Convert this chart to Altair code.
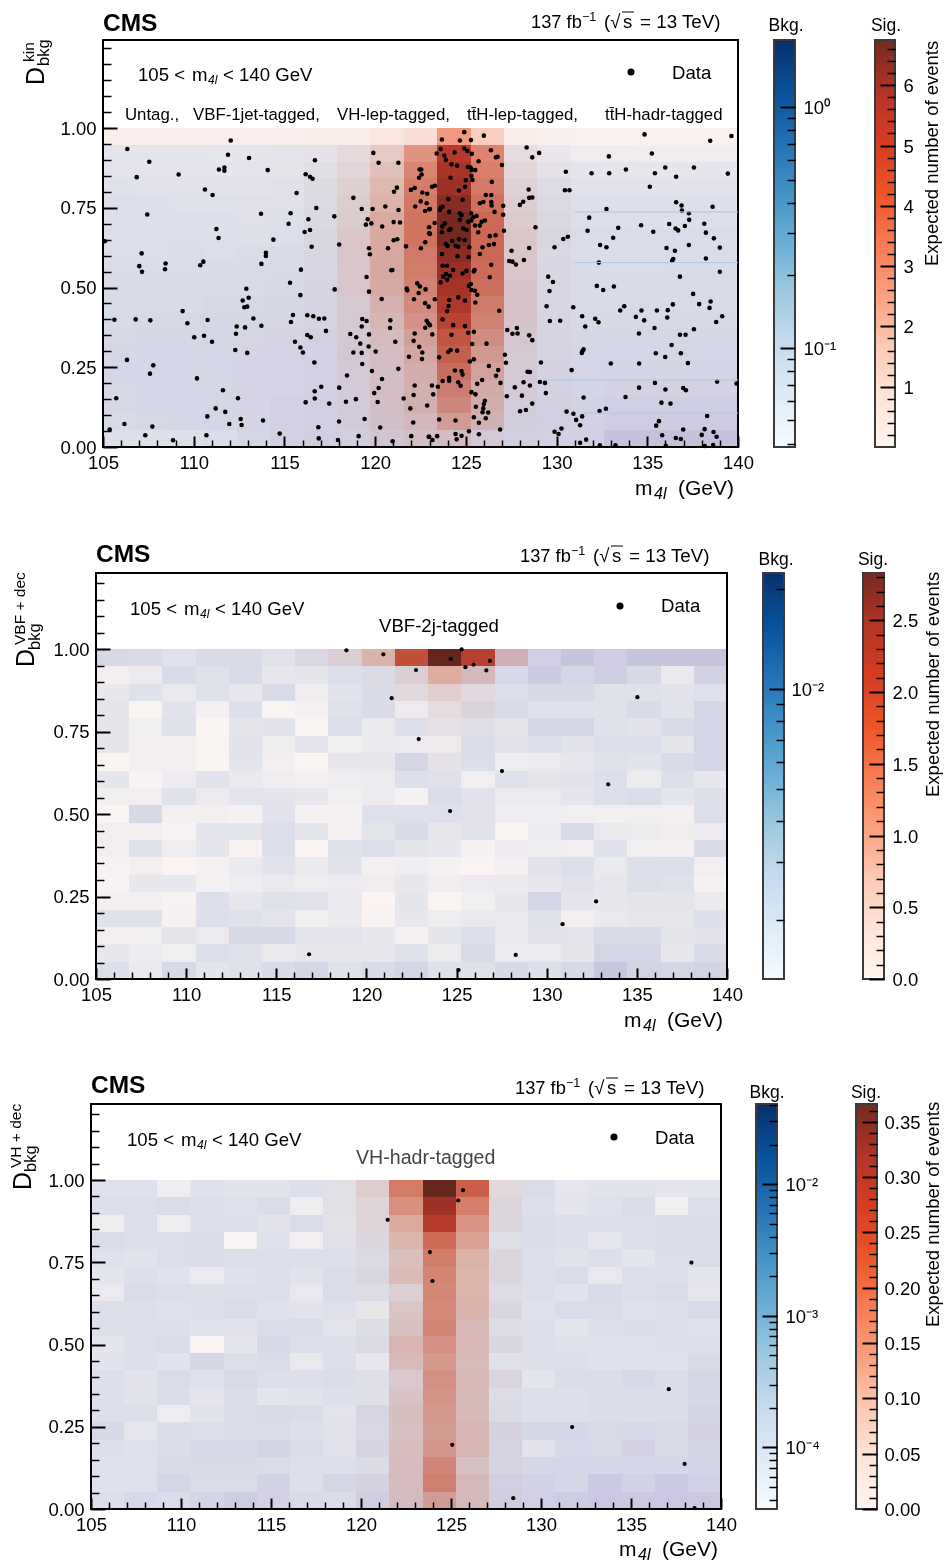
import numpy as np
import pandas as pd
import altair as alt

FONT = "Liberation Sans"
W, H = 935, 1556
N = 19
EDGES = [105 + 35 * i / N for i in range(N + 1)]
REDGES = [i / N for i in range(N + 1)]

BLUES = ["#f7fbff", "#deebf7", "#c6dbef", "#9ecae1", "#6baed6", "#4292c6", "#2171b5", "#08519c", "#08306b"]
CELL_BLUES = ["#fbfbff", "#dee7f7", "#cdd0ec", "#b3b3dc", "#6baed6", "#4292c6", "#2171b5", "#08519c", "#08306b"]
REDS = ["#fff5f0", "#fee4d8", "#fdc9b2", "#fb9f7e", "#f87b52", "#ec5428", "#d63c22", "#b33425", "#762a20"]
CELL_REDS = ["#fdf8f4", "#fee4d8", "#fdc9b2", "#f89c80", "#f07a5c", "#e45a3c", "#d03e2c", "#b03426", "#762a20"]

# background per cell, rows from y=1 downward, units 1e-3
bkg1 = [
 [39]*19,
 [54,54,54,53,53,54,54,54,54,54,54,54,54,50,46,46,45,45,45],
 [56,55,55,54,54,55,58,58,58,58,58,58,58,54,54,53,53,53,54],
 [60,58,58,57,56,58,62,62,62,62,62,62,62,62,58,57,57,57,58],
 [62,62,60,60,60,60,64,65,64,64,64,64,64,65,62,62,62,62,62],
 [62,62,62,62,60,62,66,66,66,66,66,66,66,67,64,64,64,64,64],
 [64,62,64,62,62,64,68,68,68,68,68,68,68,70,66,66,66,66,66],
 [64,64,66,64,66,68,70,70,70,70,70,70,70,68,66,66,66,66,67],
 [66,66,66,68,68,70,72,72,72,72,72,72,72,70,68,67,67,68,68],
 [68,68,68,70,70,72,74,74,74,74,74,74,74,72,70,70,70,70,70],
 [70,70,70,73,73,75,76,76,76,76,76,76,76,73,72,72,72,72,72],
 [72,73,74,76,76,78,78,78,78,78,78,78,78,74,73,73,73,74,74],
 [75,76,76,78,78,80,82,82,80,80,80,80,80,76,76,76,76,76,76],
 [76,78,78,80,80,82,84,84,82,82,82,82,82,78,78,79,79,79,79],
 [76,78,78,80,80,82,84,84,84,84,84,84,84,80,80,82,82,82,82],
 [74,76,78,80,80,82,84,84,84,84,84,84,84,82,82,85,85,85,85],
 [74,76,76,78,80,84,86,86,86,86,86,86,86,84,84,90,90,92,92],
 [72,74,76,78,80,84,86,86,86,86,86,86,86,86,86,96,96,98,98],
 [62,62,62,66,74,84,90,84,84,84,84,84,84,84,88,115,115,118,118],
]
sig1 = [
 [.25,.25,.25,.25,.25,.25,.3,.35,.6,.9,2.6,1.4,.3,.2,.15,.15,.15,.15,.15],
 [.05,.05,.05,.05,.08,.1,.15,.6,1.2,2.5,5.2,2.9,.5,.15,.05,.05,.05,.05,.05],
 [.05,.05,.05,.05,.08,.1,.25,.7,1.4,2.8,5.6,3.0,.6,.2,.05,.05,.05,.05,.05],
 [.05,.05,.05,.05,.08,.1,.3,.85,1.6,3.0,5.8,3.1,.7,.25,.05,.05,.05,.05,.05],
 [.05,.05,.05,.05,.08,.1,.3,.9,1.7,3.1,6.2,3.3,.85,.3,.05,.05,.05,.05,.05],
 [.05,.05,.05,.05,.08,.1,.3,.9,1.9,3.2,6.5,3.5,.95,.3,.05,.05,.05,.05,.05],
 [.05,.05,.05,.05,.08,.1,.3,1.0,1.9,3.2,6.5,3.5,1.0,.3,.05,.05,.05,.05,.05],
 [.05,.05,.05,.05,.08,.1,.25,1.0,1.9,3.0,6.1,3.5,.95,.25,.05,.05,.05,.05,.05],
 [.05,.05,.05,.05,.08,.1,.2,.95,1.9,2.9,5.8,3.4,.95,.25,.05,.05,.05,.05,.05],
 [.05,.05,.05,.05,.08,.1,.2,.9,1.8,2.7,5.4,3.2,.95,.2,.05,.05,.05,.05,.05],
 [.05,.05,.05,.05,.08,.1,.2,.75,1.6,2.5,5.0,2.9,.95,.2,.05,.05,.05,.05,.05],
 [.05,.05,.05,.05,.08,.1,.15,.7,1.4,2.3,4.6,2.7,.9,.2,.05,.05,.05,.05,.05],
 [.05,.05,.05,.05,.08,.1,.15,.65,1.2,2.0,4.0,2.4,.8,.15,.05,.05,.05,.05,.05],
 [.05,.05,.05,.05,.08,.1,.12,.6,1.05,1.8,3.7,2.1,.65,.15,.05,.05,.05,.05,.05],
 [.05,.05,.05,.05,.08,.1,.12,.5,1.0,1.6,3.2,1.9,.5,.15,.05,.05,.05,.05,.05],
 [.05,.05,.05,.05,.08,.1,.12,.45,1.0,1.5,2.8,1.7,.45,.15,.05,.05,.05,.05,.05],
 [.05,.05,.05,.05,.08,.1,.12,.4,.9,1.5,2.5,1.6,.35,.15,.05,.05,.05,.05,.05],
 [.05,.05,.05,.05,.08,.1,.12,.4,.9,1.2,2.0,1.4,.3,.15,.05,.05,.05,.05,.05],
 [.05,.05,.05,.05,.08,.1,.12,.25,.7,1.0,1.1,.5,.2,.1,.05,.05,.05,.05,.05],
]
# units 1e-4
bkg2 = [
 [21,20,17.6,20,20,17.6,20,20,20,20,20,20,26,24.5,29,25,29,29,29],
 [14.3,15.5,20,18,20,16.5,17,19,19,20,18,22,21,27,22,25,21,16,23.5],
 [16.5,18.2,16,18,16.5,20,15,17.6,20,18,18,18,19,21,21,18,18,17.6,18.5],
 [17,13.3,17.6,14.3,18.6,13.3,14,18,20,15,17,20,20,18.2,18.2,18.2,20,17.6,22],
 [17,14.6,18.2,13.3,17,17.6,13.3,19,16,19,17,18,17,22,22,18.2,17.6,20,22],
 [17,14.3,14.3,13.3,17.6,15,17.4,14.6,16,15.5,14.8,19.5,17.6,18.6,17.6,19,19,17,22],
 [13.3,14.5,14.3,13.3,17.4,14.5,13.3,16.4,16.4,22,17,19,15,15.5,16.5,18,17.6,20,22],
 [17,13.5,15.3,17.8,15.8,15,14.3,15,15.2,18.6,18,14.5,18,17,17.6,18.6,15.2,18.6,16.5],
 [14.6,14.5,18.2,15.5,17.4,17.4,16.4,14.6,15.5,14,19.5,17.8,15.5,15.5,17,18.6,19.2,17,18.6],
 [13.3,21,14.3,14.3,14,17.6,14.2,14.2,18.4,18.4,18.4,17.8,15,14.8,14.6,14.3,14.6,14.3,19],
 [14.5,14.5,13.4,17.4,17,19,17,14.1,17,20,16.5,17.6,13.3,15.5,20,16,15.5,15,15.5],
 [14.4,18,15,17,13.6,18.6,13.3,18.2,19,17,16.5,14,15.5,15,14.6,18.2,14.6,14.3,20],
 [13.6,14.5,13.2,14.2,16,17.6,16,17.6,14.3,14.8,14,13.2,14.3,17.6,18.6,16,18.6,18.6,14.4],
 [13.4,16.5,16.5,14.2,15,15.8,14.8,15.5,15,16.4,14.8,15.5,16,16.5,17.8,16.4,18.6,18.2,14],
 [14.3,14.5,13.7,18.6,16.5,18,17.8,16,13.2,17,13.3,14.6,16.4,22,17.4,16.4,17,17,16],
 [18,18.2,13.8,18.6,18,17.2,14.6,16,13.4,16.5,15,16,16.2,18.2,14.4,16,16.5,16.5,18.6],
 [14.5,14.6,17,15.5,21,21,17.4,17.4,16.4,14.2,17,18.6,16,17.6,17.4,20,20,17,17.6],
 [16.4,15.3,14.6,18.6,18,16,16.8,16.8,16.4,18.2,15.2,20,15.5,15.5,17,22,22,16.4,20],
 [18.6,16,21,17,18,20,22,18.2,20,22,18.2,18,21,18.6,21,28,23,22,23],
]
sig2 = [
 [.03,.03,.03,.03,.03,.03,.1,.3,.7,1.8,2.83,2.0,.55,.03,.03,.03,.03,.03,.03],
 [.02,.02,.02,.02,.02,.02,.02,.02,.1,.3,.8,.55,.03,.02,.02,.02,.02,.02,.02],
 [.02,.02,.02,.02,.02,.02,.02,.02,.03,.2,.4,.2,.02,.02,.02,.02,.02,.02,.02],
 [.02,.02,.02,.02,.02,.02,.02,.02,.02,.05,.2,.2,.02,.02,.02,.02,.02,.02,.02],
 [.02,.02,.02,.02,.02,.02,.02,.02,.02,.03,.1,.08,.02,.02,.02,.02,.02,.02,.02],
 [.02,.02,.02,.02,.02,.02,.02,.02,.02,.02,.08,.03,.02,.02,.02,.02,.02,.02,.02],
 [.02,.02,.02,.02,.02,.02,.02,.02,.02,.02,.06,.03,.02,.02,.02,.02,.02,.02,.02],
 [.02,.02,.02,.02,.02,.02,.02,.02,.02,.02,.04,.02,.02,.02,.02,.02,.02,.02,.02],
] + [[.02] * 19 for _ in range(11)]
# units 1e-5
bkg3 = [
 [7.5,7.5,4.5,7.5,6.9,6.9,8,7,8,8,8,8,7,9,6,6.9,6.9,6.4,6.4],
 [8,8,9.2,8,7.5,8.8,4.5,7,8,8,8,8,8.5,8,6.4,7.5,8.8,4.3,8],
 [4.5,8,4.6,8,8,6.9,9.2,6.4,8,8,8,8,8.5,9,8,8,8,8.8,8.8],
 [9.2,8.4,8.4,8.8,3.4,7.5,4.4,6.9,8.5,8.5,8.5,8.5,8,8.8,8,6,8,9,9],
 [7.5,6.8,8.4,9.2,8,8,8,8,8.5,9,9,9,9,8,6.9,8,6.4,8.4,9.2],
 [6.4,8,6.8,5,7.5,8,6.9,8.8,9,9,9,9,9,8,9.2,5.6,8,8.4,6.4],
 [5,9.2,8,8,8,8,5.6,9.2,8,9,9,9,8,8,6.9,10,8,9.2,6],
 [8,8,7.5,8,9.2,7.5,6.9,7.5,5.6,9.5,9.5,9.5,9,7.5,9.2,9.2,7.5,8,10.4],
 [8,8,8,6.9,6.9,8.8,8.8,6.4,8,10,10,10,8,8,6.4,8,8.6,8,7.5],
 [6.4,8,9.2,3.4,6.4,11,8,8,9,10,10,10,9,8,7.5,7.5,7.5,8,8],
 [6.9,8,6.9,12,8,9.2,5.6,8,5.6,10,10,10,7,8,8,7.5,7.5,7.5,10.4],
 [8,6.9,9.2,7.5,10.4,8,8,8.8,7.5,10.5,10.5,10.5,9.5,6.4,9,9,11,9,12],
 [8,6.9,8.8,6.4,9.2,6.4,6.9,8,7.5,10.5,10.5,10.5,8.5,8,8,8.8,8.8,8.8,12],
 [8,8,4.6,6.9,9.2,10.4,9.2,6.4,11,10.5,10.5,10.5,8.8,8,8,8.8,8.8,8.8,13],
 [10.6,6,8.8,8,9.2,9.2,8,6.9,10,11,11,11,12,12,12,10.4,11,10.4,14],
 [8,7.5,8.8,10.6,10.6,13,9.2,6.9,12,11.5,11.5,11.5,12,6.9,11,10.4,14,10.4,13],
 [7.5,7.5,10.4,10.4,10.4,9.2,8,8,8.8,12,12,12,12,12,12,12,12,12,13],
 [7.5,7.5,12.5,9.2,9.2,14,8,12,12.5,12.5,12.5,12.5,14,14,12,20,14,20,15],
 [8,10.6,9.2,13,17,14,10.4,9.2,15,14,14,14,15,15,18,20,20,20,20],
]
L7 = [.002] * 7
L5 = [.002] * 5
sig3 = [
 L7[:6]+[.004,.012,.05,.165,.366,.21,.03,.006]+L5,
 L7+[.012,.035,.135,.31,.16,.03,.004]+L5,
 L7+[.01,.035,.105,.27,.13,.03,.002]+L5,
 L7+[.006,.025,.09,.19,.115,.01,.002]+L5,
 L7+[.004,.015,.07,.16,.095,.025,.002]+L5,
 L7+[.004,.02,.08,.15,.09,.025,.002]+L5,
 L7+[.004,.015,.04,.145,.09,.015,.002]+L5,
 L7+[.004,.008,.06,.14,.09,.02,.002]+L5,
 L7+[.004,.012,.065,.145,.08,.012,.002]+L5,
 L7+[.004,.012,.085,.13,.08,.02,.002]+L5,
 L7+[.004,.004,.075,.12,.075,.008,.002]+L5,
 L7+[.004,.006,.045,.13,.075,.02,.002]+L5,
 L7+[.004,.006,.055,.125,.075,.01,.002]+L5,
 L7+[.004,.012,.065,.12,.075,.01,.002]+L5,
 L7+[.004,.01,.06,.115,.08,.015,.002]+L5,
 L7+[.004,.012,.065,.12,.08,.012,.002]+L5,
 L7+[.004,.01,.065,.14,.055,.012,.002]+L5,
 L7+[.004,.012,.065,.15,.07,.012,.002]+L5,
 L7+[.004,.012,.06,.11,.065,.012,.002]+L5,
]

data1 = [
(112.04,.961),(106.34,.934),(107.55,.894),(111.89,.916),(113.05,.906),(106.86,.846),(109.17,.854),(111.39,.870),(111.69,.876),(111.69,.866),
(114.08,.868),(110.62,.807),(111.04,.790),(107.44,.729),(113.71,.731),(115.34,.733),(115.23,.700),(116.32,.714),(116.11,.674),(116.41,.680),
(111.25,.683),(111.37,.655),(114.39,.650),(116.68,.899),(116.17,.855),(116.41,.847),(116.55,.841),(115.67,.796),(116.76,.749),(117.75,.723),
(118.02,.635),(116.50,.628),(118.80,.781),(119.26,.746),(119.86,.746),(120.56,.754),(121.29,.743),(119.59,.714),(119.49,.697),(119.79,.701),
(120.39,.691),(121.02,.705),(121.37,.704),(121.02,.648),(121.22,.651),(119.66,.623),(120.71,.623),(119.90,.922),(120.19,.891),(121.28,.891),
(121.20,.813),(121.04,.800),(122.45,.870),(122.54,.870),(122.56,.854),(122.42,.844),(121.97,.806),(122.18,.812),(122.60,.798),(122.87,.794),
(122.51,.770),(122.84,.764),(122.21,.754),(122.75,.740),(122.98,.745),(121.70,.629),(122.76,.642),(122.98,.689),(122.98,.670),(122.52,.623),
(105.1,.645),
(124.91,.987),(123.68,.964),(124.67,.961),(125.28,.962),(125.99,.976),(123.61,.934),(123.39,.920),(123.81,.914),(124.38,.923),(124.91,.936),
(125.09,.928),(125.33,.919),(126.38,.930),(126.66,.908),(126.75,.910),(123.90,.900),(124.21,.886),(124.52,.882),(125.11,.878),(125.26,.876),
(125.70,.896),(126.99,.884),(125.33,.868),(125.52,.868),(124.16,.844),(125.31,.850),(126.43,.831),(123.13,.816),(123.29,.819),(125.00,.836),
(125.37,.837),(124.62,.804),(124.95,.816),(126.10,.790),(126.40,.790),(124.03,.777),(124.82,.775),(125.77,.764),(125.96,.768),(126.40,.768),
(126.42,.757),(127.06,.756),(125.30,.733),(123.62,.751),(123.72,.753),(123.57,.743),(123.02,.746),(124.08,.737),(124.67,.733),(124.76,.727),
(127.06,.728),(126.58,.737),(125.59,.724),(125.41,.720),(125.13,.706),(125.31,.710),(124.67,.712),(123.28,.702),(123.84,.701),(123.70,.691),
(123.68,.673),(124.08,.680),(124.16,.683),(124.85,.685),(125.04,.680),(123.02,.668),(126.05,.710),(125.87,.706),(125.77,.694),(125.50,.694),
(127.10,.678),(126.32,.661),(126.64,.664),(125.68,.673),(124.25,.646),(124.62,.651),(124.93,.649),(123.90,.636),(123.99,.630),(124.43,.630),
(124.58,.628),(125.19,.626),(125.92,.626),(126.27,.633),(126.55,.636),
(128.35,.939),(128.66,.908),(129.04,.922),(130.51,.863),(130.46,.805),(130.71,.805),(128.46,.807),(127.98,.759),(128.16,.769),(128.49,.781),
(128.66,.782),(128.84,.689),(130.37,.652),(130.62,.659),(129.89,.626),(128.49,.624),(134.85,.980),(138.47,.960),(139.64,.975),(132.88,.911),
(135.25,.920),(131.93,.858),(132.90,.858),(133.82,.870),(135.42,.858),(135.99,.876),(136.59,.847),(137.57,.876),(139.44,.857),(135.14,.816),
(136.59,.767),(136.89,.757),(136.91,.741),(137.29,.733),(132.75,.746),(131.80,.719),(137.31,.712),(138.14,.700),(138.60,.753),(131.71,.678),
(133.40,.687),(133.12,.656),(134.66,.695),(135.33,.675),(136.21,.699),(136.56,.685),(136.70,.679),(137.07,.693),(138.23,.672),(138.67,.654),
(132.40,.633),(132.75,.626),(136.06,.624),(137.29,.633),(139.00,.625),
(107.13,.607),(107.00,.567),(107.15,.549),(108.45,.575),(108.42,.557),(110.53,.581),(110.36,.570),(113.98,.609),(113.98,.599),(113.73,.574),
(115.91,.556),(115.31,.515),(115.88,.476),(117.77,.494),(119.53,.533),(119.71,.604),(119.66,.487),(120.89,.554),(120.95,.555),(120.36,.464),
(112.90,.496),(113.03,.468),(112.70,.459),(112.79,.438),(112.95,.440),(109.39,.426),(105.63,.399),(106.80,.400),(107.61,.397),(110.77,.398),
(109.65,.388),(113.29,.403),(112.37,.378),(112.83,.375),(113.73,.380),(112.33,.355),(110.57,.349),(110.03,.344),(111.01,.330),(112.29,.304),
(112.95,.295),(115.47,.414),(115.36,.392),(116.26,.413),(116.59,.410),(116.90,.402),(117.20,.403),(117.29,.364),(116.26,.351),(116.45,.344),
(115.58,.330),(115.88,.312),(116.02,.296),(116.65,.265),(119.29,.401),(119.26,.378),(119.53,.395),(119.66,.353),(118.63,.354),(118.96,.344),
(119.18,.324),(119.64,.315),(120.03,.299),(118.80,.296),(119.26,.295),(119.29,.260),(119.82,.238),(120.84,.397),(120.82,.373),(121.11,.330),
(121.28,.245),(120.38,.213),(120.19,.185),(119.95,.169),(120.14,.141),(118.94,.150),(118.39,.142),(118.45,.224),(118.02,.186),(117.03,.189),
(116.67,.175),(116.67,.152),(116.17,.140),(117.47,.136),(106.32,.273),(107.77,.256),(107.59,.230),(110.18,.215),(111.61,.178),(112.44,.153),
(105.73,.153),(111.21,.121),(111.74,.110),(110.75,.096),(112.59,.088),(112.64,.069),(111.96,.072),(113.82,.083),(106.18,.072),(105.37,.055),
(107.72,.064),(107.33,.037),(108.86,.021),(110.70,.037),(114.74,.042),(116.87,.062),(116.89,.027),(117.95,.022),(118.01,.080),(119.09,.034),
(119.42,.088),(120.28,.061),(120.96,.018),(121.57,.152),(121.94,.121),(122.10,.077),(121.99,.034),(122.95,.032),(122.18,.193),(122.12,.163),
(122.87,.130),(121.86,.283),(122.58,.276),(122.60,.296),(122.43,.314),(122.12,.333),(122.18,.356),(122.84,.396),(123.02,.382),(122.76,.374),
(121.74,.497),(121.77,.491),(122.32,.513),(122.47,.503),(122.78,.494),(122.40,.483),(122.14,.463),(122.75,.451),(122.95,.440),
(123.68,.605),(124.54,.598),(125.15,.595),(125.77,.605),(123.72,.568),(123.97,.568),(126.40,.571),(125.48,.555),(124.82,.544),(125.04,.552),
(124.30,.555),(124.12,.537),(123.90,.542),(123.75,.534),(123.61,.516),(123.97,.524),(126.32,.532),(125.44,.550),(125.28,.511),(125.17,.505),
(125.31,.492),(125.63,.477),(125.50,.490),(123.29,.463),(124.08,.461),(124.58,.469),(124.95,.459),(125.52,.453),(124.05,.442),(123.97,.426),
(126.84,.427),(123.72,.400),(122.93,.388),(123.15,.353),(124.30,.382),(124.95,.379),(125.13,.358),(125.44,.361),(124.21,.352),(125.35,.323),
(126.14,.324),(124.03,.298),(124.16,.304),(124.52,.302),(123.53,.281),(125.22,.268),(125.44,.275),(126.27,.254),(126.78,.241),(126.66,.223),
(126.91,.201),(124.40,.240),(124.76,.238),(124.82,.227),(123.72,.207),(124.08,.217),(124.08,.208),(124.58,.203),(124.71,.192),(125.63,.198),
(125.90,.210),(123.13,.193),(123.46,.189),(123.20,.165),(125.31,.172),(125.53,.165),(126.05,.145),(125.99,.135),(125.55,.126),(125.96,.121),
(125.92,.109),(126.23,.108),(125.44,.093),(126.10,.090),(125.72,.076),(123.53,.086),(124.43,.083),(126.89,.055),(125.72,.040),(125.17,.049),
(124.76,.035),(124.43,.041),(124.49,.024),(123.42,.034),(122.98,.032),(123.16,.022),(127.52,.615),(127.39,.583),(127.57,.581),(127.76,.572),
(128.20,.586),(127.15,.289),(127.21,.264),(127.28,.367),(127.57,.355),(127.81,.373),(127.85,.356),(128.49,.350),(128.66,.335),(128.40,.236),
(128.53,.235),(127.70,.187),(128.18,.203),(128.53,.193),(127.26,.159),(128.09,.161),(128.66,.136),(127.99,.112),(128.31,.116),(129.54,.534),
(129.80,.517),(129.61,.489),(129.45,.441),(129.63,.395),(130.20,.396),(129.14,.265),(129.08,.204),(129.36,.201),(129.41,.169),(129.89,.048),
(130.11,.041),(130.27,.058),(130.92,.438),(131.41,.410),(131.58,.378),(132.13,.402),(132.31,.391),(131.49,.306),(131.43,.301),(131.39,.295),
(130.83,.241),(131.49,.155),(130.55,.111),(130.93,.104),(131.41,.096),(131.08,.085),(131.30,.068),(132.33,.578),(132.22,.505),(132.57,.492),
(133.16,.503),(133.51,.428),(133.73,.441),(134.37,.408),(134.68,.428),(134.83,.397),(134.54,.356),(135.40,.373),(135.53,.428),(136.13,.429),
(136.10,.406),(136.41,.447),(136.80,.534),(136.37,.584),(136.43,.589),(136.52,.615),(138.23,.591),(139.00,.549),(137.53,.480),(137.86,.448),
(138.49,.456),(138.43,.436),(139.13,.410),(138.80,.392),(137.57,.369),(136.80,.352),(137.11,.352),(136.34,.320),(136.85,.294),(135.47,.294),
(135.99,.282),(137.24,.263),(134.55,.262),(132.99,.262),(135.42,.201),(138.85,.205),(134.55,.186),(136.00,.180),(136.98,.185),(137.13,.178),
(139.92,.199),(133.80,.157),(135.78,.139),(136.28,.136),(132.72,.120),(132.37,.113),(138.30,.097),(135.64,.081),(135.49,.067),(136.98,.055),
(138.16,.056),(138.00,.038),(138.65,.047),(138.82,.032),(135.82,.037),(136.57,.028),(136.85,.025),(131.30,.013),(131.63,.023),(132.39,.005),
(133.25,.005),(136.02,.004),(138.17,.003),(138.63,.006),
]
data2 = [
(118.89,.996),(120.94,.984),(122.75,.936),(121.40,.851),(122.90,.727),(116.82,.075),(125.28,.999),(124.68,.970),(125.49,.945),(125.94,.953),
(126.85,.964),(126.65,.935),(135.03,.854),(127.52,.630),(133.41,.590),(124.64,.509),(132.74,.235),(130.88,.166),(128.28,.073),(125.11,.027),
]
data3 = [
(121.48,.879),(125.67,.969),(125.40,.938),(123.83,.781),(123.97,.693),(138.36,.749),(137.10,.364),(131.73,.249),(125.07,.195),(137.98,.137),
(128.46,.033),(138.53,.003),
]
seams1 = [(131.0, 140, .737), (131.0, 140, .578), (129.4, 140, .21), (131.4, 140, .106)]

categories1 = [("Untag.,", 125), ("VBF-1jet-tagged,", 193), ("VH-lep-tagged,", 337),
               ("tt\u0304H-lep-tagged,", 467), ("tt\u0304H-hadr-tagged", 605)]
X_MAJOR = [105, 110, 115, 120, 125, 130, 135, 140]
X_MINOR = [v for v in range(106, 140) if v % 5]
Y_MAJOR = [0, .25, .5, .75, 1.0]
Y_MINOR = [round(i * .05, 2) for i in range(1, 26) if i % 5 or i == 25]
SUPS = "['10\u207b\u2074','10\u207b\u00b3','10\u207b\u00b2','10\u207b\u00b9','10\u2070'][round(log(datum.value)/LN10)+4]"

layers = []


def txt(s, x, y, size=18, weight="normal", style="normal", angle=0, align="left", color="black"):
    layers.append(
        alt.Chart(pd.DataFrame({"t": [s]}))
        .mark_text(font=FONT, fontSize=size, fontWeight=weight, fontStyle=style, angle=angle,
                   align=align, baseline="alphabetic", color=color)
        .encode(x=alt.value(x - 8), y=alt.value(y - 8), text="t:N")
    )


def hide(values, enc):
    return alt.Chart(pd.DataFrame({"v": values})).mark_point(opacity=0).encode(**enc)


def ax(**kw):
    base = dict(title=None, grid=False, domain=False, labelOverlap=False, zindex=1, labelFlush=False,
                labelFont=FONT, labelColor="black", tickColor="black")
    base.update(kw)
    return alt.Axis(**base)


def color_scale(kind, lo, hi, stops=None):
    n = 9
    if kind == "log":
        dom = [float(10 ** (np.log10(lo) + i * (np.log10(hi) - np.log10(lo)) / (n - 1))) for i in range(n)]
        return alt.Scale(type="log", domain=dom, range=stops or BLUES, interpolate="rgb")
    dom = [lo + i * (hi - lo) / (n - 1) for i in range(n)]
    return alt.Scale(type="linear", domain=dom, range=stops or REDS, interpolate="rgb", zero=False, nice=False)


def panel(left, right, top, bottom, y1px, bkg, unit, sig, dots, dsize, blo, bhi, shi, slo=0.0):
    ymax = (bottom - top) / (bottom - y1px)
    rows = []
    for r in range(N):
        for c in range(N):
            rows.append(dict(x0=EDGES[c], x1=EDGES[c + 1], y0=REDGES[N - r - 1], y1=REDGES[N - r],
                             sig=sig[r][c], bkg=bkg[r][c] * unit))
    df = pd.DataFrame(rows)
    xr = [left - 8, right - 8]
    yr = [bottom - 8, top - 8]

    def xs(rnd=False):
        return alt.Scale(domain=[105, 140], range=xr, zero=False, nice=False, round=rnd)

    def ys(rnd=False):
        return alt.Scale(domain=[0, ymax], range=yr, zero=False, nice=False, round=rnd)

    cell = dict(x=alt.X("x0:Q", scale=xs(True), axis=None), x2="x1:Q",
                y=alt.Y("y0:Q", scale=ys(True), axis=None), y2="y1:Q")
    layers.append(alt.Chart(df).mark_rect(strokeWidth=0).encode(
        color=alt.Color("sig:Q", scale=color_scale("lin", slo, shi, CELL_REDS), legend=None), **cell))
    layers.append(alt.Chart(df).mark_rect(strokeWidth=0, blend="multiply").encode(
        color=alt.Color("bkg:Q", scale=color_scale("log", blo, bhi, CELL_BLUES), legend=None), **cell))
    dd = pd.DataFrame(dots, columns=["m", "d"])
    layers.append(alt.Chart(dd).mark_circle(size=dsize, color="black", opacity=1).encode(
        x=alt.X("m:Q", scale=xs(), axis=None), y=alt.Y("d:Q", scale=ys(), axis=None)))
    # frame
    fr = pd.DataFrame({"a": [105], "b": [140], "c": [0], "d": [ymax]})
    layers.append(alt.Chart(fr).mark_rect(fillOpacity=0, stroke="black", strokeWidth=2).encode(
        x=alt.X("a:Q", scale=xs(), axis=None), x2="b:Q", y=alt.Y("c:Q", scale=ys(), axis=None), y2="d:Q"))
    # x axis: labels below, ticks pointing into the plot
    layers.append(hide(X_MAJOR, dict(x=alt.X("v:Q", scale=xs(), axis=ax(
        orient="bottom", offset=bottom - 8 - H, values=X_MAJOR, ticks=False, labelFontSize=18.5,
        labelPadding=6, format="d")), y=alt.value(0))))
    layers.append(hide(X_MAJOR, dict(x=alt.X("v:Q", scale=xs(), axis=ax(
        orient="top", offset=-(bottom - 8), values=X_MAJOR, labels=False, tickSize=11, tickWidth=2)),
        y=alt.value(0))))
    layers.append(hide(X_MINOR, dict(x=alt.X("v:Q", scale=xs(), axis=ax(
        orient="top", offset=-(bottom - 8), values=X_MINOR, labels=False, tickSize=7, tickWidth=1.5)),
        y=alt.value(0))))
    # y axis
    layers.append(hide(Y_MAJOR, dict(y=alt.Y("v:Q", scale=ys(), axis=ax(
        orient="left", offset=-(left - 8), values=Y_MAJOR, ticks=False, labelFontSize=18.5,
        labelPadding=7, format=".2f")), x=alt.value(0))))
    layers.append(hide(Y_MAJOR, dict(y=alt.Y("v:Q", scale=ys(), axis=ax(
        orient="right", offset=left - 8 - W, values=Y_MAJOR, labels=False, tickSize=14, tickWidth=2)),
        x=alt.value(0))))
    layers.append(hide(Y_MINOR, dict(y=alt.Y("v:Q", scale=ys(), axis=ax(
        orient="right", offset=left - 8 - W, values=Y_MINOR, labels=False, tickSize=8, tickWidth=1.5)),
        x=alt.value(0))))
    return xs, ys


def colorbar(kind, l, r, top, bottom, lo, hi, major, minor, fmt, title, title_x, title_y, label_pad):
    if kind == "log":
        e = np.geomspace(lo, hi, 201)
        sc = alt.Scale(type="log", domain=[lo, hi], range=[bottom - 8, top - 8], nice=False, round=True)
    else:
        e = np.linspace(lo, hi, 201)
        sc = alt.Scale(type="linear", domain=[lo, hi], range=[bottom - 8, top - 8], zero=False, nice=False, round=True)
    band = pd.DataFrame({"a": e[:-1], "b": e[1:], "c": (e[:-1] + e[1:]) / 2})
    layers.append(alt.Chart(band).mark_rect(strokeWidth=0).encode(
        x=alt.value(l - 8), x2=alt.value(r - 8),
        y=alt.Y("a:Q", scale=sc, axis=None), y2="b:Q",
        color=alt.Color("c:Q", scale=color_scale("log" if kind == "log" else "lin", lo, hi), legend=None)))
    layers.append(alt.Chart(pd.DataFrame({"a": [lo], "b": [hi]})).mark_rect(
        fillOpacity=0, stroke="#3a3a3a", strokeWidth=2).encode(
        x=alt.value(l - 8), x2=alt.value(r - 8), y=alt.Y("a:Q", scale=sc, axis=None), y2="b:Q"))
    lab = dict(orient="right", offset=r - 8 - W, values=major, ticks=False, labelFontSize=18.5,
               labelPadding=label_pad, labelAlign="left")
    if kind == "log":
        lab["labelExpr"] = SUPS
    else:
        lab["format"] = fmt
    layers.append(hide(major, dict(y=alt.Y("v:Q", scale=sc, axis=ax(**lab)), x=alt.value(0))))
    layers.append(hide(major, dict(y=alt.Y("v:Q", scale=sc, axis=ax(
        orient="left", offset=-(r - 8), values=major, labels=False, tickSize=15, tickWidth=2)), x=alt.value(0))))
    layers.append(hide(minor, dict(y=alt.Y("v:Q", scale=sc, axis=ax(
        orient="left", offset=-(r - 8), values=minor, labels=False, tickSize=8, tickWidth=1.5)), x=alt.value(0))))
    txt(title, title_x, title_y, size=17.5, align="center")


def labels(dx, dy_cms, dy_rng, dx_rng, cms_x, cms_y, dx_ax, dy_ax):
    # CMS
    txt("CMS", cms_x, cms_y, size=24.5, weight="bold")
    # luminosity
    txt("137 fb", 531 + dx, 28 + dy_cms, size=18.3)
    txt("\u22121", 582 + dx, 21 + dy_cms, size=12.5)
    txt("(\u221a", 604 + dx, 28 + dy_cms, size=18.5)
    txt("s", 623 + dx, 28 + dy_cms, size=18.5)
    txt("= 13 TeV)", 640 + dx, 28 + dy_cms, size=18.8)
    layers.append(alt.Chart(pd.DataFrame({"t": [0]})).mark_rule(color="black", strokeWidth=1).encode(
        x=alt.value(622 + dx - 8), x2=alt.value(634 + dx - 8), y=alt.value(12 + dy_cms - 8)))
    # range
    txt("105 <", 138 + dx_rng, 81 + dy_rng, size=18.6)
    txt("m", 192 + dx_rng, 81 + dy_rng, size=18.6)
    txt("4l", 208 + dx_rng, 84 + dy_rng, size=12, style="italic")
    txt("< 140 GeV", 223 + dx_rng, 81 + dy_rng, size=18.6)
    # x title
    txt("m", 635 + dx_ax, 495 + dy_ax, size=21)
    txt("4l", 654 + dx_ax, 499 + dy_ax, size=16, style="italic")
    txt("(GeV)", 678 + dx_ax, 495 + dy_ax, size=21)


def ytitle(sup, x_d, y_d, x_sup, y_sup, x_sub, y_sub):
    txt("D", x_d, y_d, size=25, angle=270)
    txt(sup, x_sup, y_sup, size=15.5, angle=270)
    txt("bkg", x_sub, y_sub, size=16.5, angle=270)


def legend_data(x_dot, y_dot, x_t, y_t):
    layers.append(alt.Chart(pd.DataFrame({"t": [0]})).mark_circle(size=50, color="black", opacity=1).encode(
        x=alt.value(x_dot - 8), y=alt.value(y_dot - 8)))
    txt("Data", x_t, y_t, size=18.6)


# Panel 1
xs1, ys1 = panel(103, 738, 40, 447, 128, bkg1, 1e-3, sig1, data1, 21, .0388, 1.897, 6.75)
sd = pd.DataFrame(seams1, columns=["a", "b", "c"])
layers.append(alt.Chart(sd).mark_rule(color="#a9c8e6", strokeWidth=1).encode(
    x=alt.X("a:Q", scale=xs1(), axis=None), x2="b:Q", y=alt.Y("c:Q", scale=ys1(), axis=None)))
labels(0, 0, 0, 0, 103, 30.5, 0, 0)
ytitle("kin", 44, 85, 34, 62, 49, 66)
legend_data(631, 72, 672, 79)
for name, x in categories1:
    txt(name, x, 120, size=16.8)
colorbar("log", 774, 795, 40, 447, .0388, 1.897, [.1, 1],
         [.04, .05, .06, .07, .08, .09, .2, .3, .4, .5, .6, .7, .8, .9], "", "Bkg.", 786, 31, 8)
colorbar("lin", 875, 895, 40, 447, 0.0, 6.75, [1, 2, 3, 4, 5, 6],
         [round(i * .2, 1) for i in range(1, 34) if i % 5], "d", "Sig.", 886, 31, 8)
txt("Expected number of events", 938, 266, size=18.5, angle=270)

# Panel 2
panel(96, 727, 573, 979, 649, bkg2, 1e-4, sig2, data2, 18, .00133, .0224, 2.83)
labels(-11, 534, 534, -8, 96, 562, -11, 532)
ytitle("VBF + dec", 34, 667, 25, 645, 39.5, 650)
legend_data(620, 606, 661, 612)
txt("VBF-2j-tagged", 379, 632, size=18.6)
colorbar("log", 763, 784, 573, 979, .00133, .0224, [.01],
         [.002, .003, .004, .005, .006, .007, .008, .009, .02], "", "Bkg.", 776, 565, 7)
colorbar("lin", 863, 884, 573, 979, 0.0, 2.83, [0, .5, 1, 1.5, 2, 2.5],
         [round(i * .1, 1) for i in range(1, 29) if i % 5], ".1f", "Sig.", 873, 565, 8)
txt("Expected number of events", 938.5, 797, size=18.5, angle=270)

# Panel 3
panel(91, 721, 1104, 1509, 1180, bkg3, 1e-5, sig3, data3, 18, 3.4e-5, .0407, .366)
labels(-16, 1066, 1065, -11, 91, 1093, -16, 1061)
ytitle("VH + dec", 31, 1190, 21, 1168, 36, 1172)
legend_data(614, 1137, 655, 1144)
txt("VH-hadr-tagged", 356, 1164, size=19.6, color="#444444")
colorbar("log", 756, 777, 1104, 1509, 3.4e-5, .0407, [.0001, .001, .01],
         [4e-5, 5e-5, 6e-5, 7e-5, 8e-5, 9e-5, 2e-4, 3e-4, 4e-4, 5e-4, 6e-4, 7e-4, 8e-4, 9e-4,
          2e-3, 3e-3, 4e-3, 5e-3, 6e-3, 7e-3, 8e-3, 9e-3, .02, .03, .04], "", "Bkg.", 767, 1098, 8)
colorbar("lin", 856, 877, 1104, 1509, 0.0, .366, [0, .05, .1, .15, .2, .25, .3, .35],
         [round(i * .01, 2) for i in range(1, 37) if i % 5], ".2f", "Sig.", 866, 1098, 7)
txt("Expected number of events", 938.5, 1327, size=18.5, angle=270)

chart = (
    alt.layer(*layers)
    .resolve_scale(x="independent", y="independent", color="independent")
    .resolve_axis(x="independent", y="independent")
    .properties(width=W, height=H, padding=0, autosize=alt.AutoSizeParams(type="none"))
    .configure_view(stroke=None)
)
chart.save("out.html", embed_options={"renderer": "svg", "actions": False})
